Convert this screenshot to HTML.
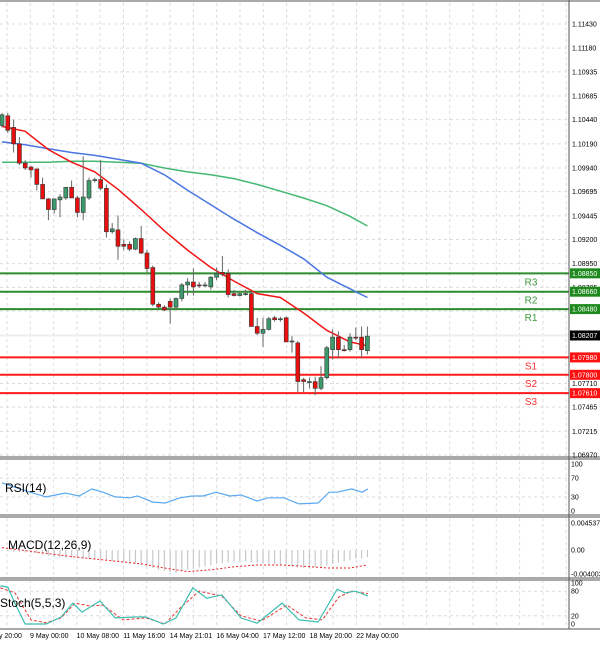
<!DOCTYPE html>
<html><head><meta charset="utf-8"><style>
html,body{margin:0;padding:0;background:#fff;}
svg{display:block;font-family:"Liberation Sans",sans-serif;}
</style></head><body>
<svg id="chart" width="600" height="645" viewBox="0 0 600 645" xmlns="http://www.w3.org/2000/svg">
<rect x="0" y="0" width="600" height="645" fill="#fff"/>
<g id="grid"></g><g id="main"></g><g id="rsi"></g><g id="macd"></g><g id="stoch"></g><g id="axes"></g>
</svg>
<script>
// ---- data ----
const opens  = [1.1038,1.1048,1.1036,1.1019,1.0999,1.0995,1.0993,1.0977,1.0962,1.0951,1.0961,1.0963,1.0974,1.0963,1.0948,1.0963,1.0981,1.0982,1.0973,1.0928,1.0930,1.0915,1.0915,1.0910,1.0921,1.0906,1.0891,1.0853,1.0850,1.0856,1.0850,1.0859,1.0873,1.0876,1.0873,1.0873,1.0871,1.0881,1.0886,1.0885,1.0864,1.0862,1.0863,1.0864,1.0830,1.0823,1.0827,1.0839,1.0838,1.0839,1.0815,1.0813,1.0775,1.0773,1.0773,1.0766,1.0777,1.0806,1.0819,1.0806,1.0806,1.0819,1.0819,1.0805];
const highs  = [1.1051,1.1051,1.1044,1.1026,1.1002,1.0996,1.0993,1.0984,1.0963,1.0962,1.0967,1.0974,1.0981,1.0965,1.1006,1.0984,1.0984,1.1002,1.0977,1.0937,1.0945,1.0920,1.0918,1.0922,1.0934,1.0909,1.0893,1.0855,1.0852,1.0859,1.0860,1.0875,1.0880,1.0890,1.0876,1.0876,1.0882,1.0891,1.0903,1.0889,1.0868,1.0865,1.0868,1.0866,1.0839,1.0839,1.0840,1.0841,1.0840,1.0840,1.0820,1.0815,1.0777,1.0777,1.0778,1.0789,1.0810,1.0827,1.0825,1.0811,1.0823,1.0829,1.0830,1.0830];
const lows   = [1.1036,1.1030,1.1010,1.0997,1.0992,1.0984,1.0971,1.0962,1.0940,1.0947,1.0943,1.0961,1.0963,1.0943,1.0940,1.0961,1.0979,1.0971,1.0922,1.0926,1.0899,1.0909,1.0908,1.0909,1.0905,1.0886,1.0851,1.0849,1.0846,1.0833,1.0848,1.0856,1.0862,1.0862,1.0870,1.0871,1.0868,1.0878,1.0882,1.0860,1.0861,1.0861,1.0862,1.0830,1.0821,1.0809,1.0826,1.0835,1.0835,1.0814,1.0803,1.0762,1.0762,1.0766,1.0759,1.0764,1.0775,1.0796,1.0797,1.0804,1.0804,1.0816,1.0797,1.0801];
const closes = [1.1049,1.1033,1.1019,1.0999,1.0994,1.0992,1.0977,1.0962,1.0951,1.0962,1.0964,1.0974,1.0963,1.0948,1.0964,1.0981,1.0982,1.0973,1.0928,1.0931,1.0913,1.0913,1.0910,1.0921,1.0906,1.0890,1.0853,1.0850,1.0847,1.0850,1.0859,1.0873,1.0876,1.0871,1.0872,1.0873,1.0881,1.0885,1.0884,1.0863,1.0862,1.0864,1.0864,1.0830,1.0823,1.0827,1.0838,1.0837,1.0838,1.0814,1.0815,1.0773,1.0773,1.0773,1.0766,1.0777,1.0808,1.0819,1.0806,1.0805,1.0819,1.0818,1.0806,1.0820];
const maIdx   = [0,4,8,12,16,20,24,28,32,36,40,44,48,52,56,60,63];
const maFast  = [1.1037,1.1032,1.1013,1.1000,1.0990,1.0972,1.0951,1.0929,1.0909,1.0891,1.0877,1.0864,1.0860,1.0844,1.0826,1.0814,1.0810];
const maMid   = [1.1021,1.1018,1.1014,1.1010,1.1007,1.1003,1.0999,1.0987,1.0971,1.0956,1.0941,1.0927,1.0914,1.0900,1.0881,1.0869,1.0860];
const maSlow  = [1.1000,1.1000,1.1000,1.1001,1.1001,1.1000,1.0999,1.0994,1.0990,1.0987,1.0983,1.0977,1.0970,1.0963,1.0955,1.0944,1.0934];
const pivotNames  = ["R3","R2","R1","S1","S2","S3"];
const pivotValues = [1.0885,1.0866,1.0848,1.0798,1.0780,1.0761];
const lastPrice = 1.08207;
const priceTicks = ["1.11430","1.11180","1.10935","1.10685","1.10440","1.10190","1.09940","1.09695","1.09445","1.09200","1.08950","1.08705","1.08460","1.07710","1.07465","1.07215","1.06970"];
const rsiIdx = [0,3.6,7.6,10.9,13.3,15.5,17.4,19.5,22,23.4,26,28.1,30.7,32.8,34.7,36.9,39.3,41.2,44,45.9,48.6,51.2,54.5,56.4,57.8,60.3,62.1,63.1];
const rsiVals = [60,45,30,38,32,47,40,30,28,32,19,17,28,32,32,40,32,34,21,28,28,15,17,40,40,47,40,47];
const macdMain = [-0.0001,-0.0002,-0.0003,-0.0003,-0.0004,-0.0005,-0.0006,-0.0008,-0.0010,-0.0011,-0.0012,-0.0013,-0.0013,-0.0014,-0.0014,-0.0015,-0.0016,-0.0016,-0.0017,-0.0019,-0.0019,-0.0020,-0.0021,-0.0023,-0.0025,-0.0027,-0.0030,-0.0033,-0.0035,-0.0037,-0.0038,-0.0036,-0.0033,-0.0031,-0.0029,-0.0027,-0.0025,-0.0023,-0.0022,-0.0021,-0.0020,-0.0019,-0.0019,-0.0020,-0.0022,-0.0023,-0.0023,-0.0024,-0.0025,-0.0026,-0.0027,-0.0029,-0.0030,-0.0030,-0.0029,-0.0028,-0.0026,-0.0023,-0.0021,-0.0019,-0.0017,-0.0015,-0.0014,-0.0012];
const macdSignal = [0.0004,-0.0001,-0.0006,-0.0011,-0.0015,-0.0019,-0.0023,-0.0030,-0.0036,-0.0033,-0.0028,-0.0025,-0.0025,-0.0027,-0.0030,-0.0030,-0.0025];
const stochMainIdx = [-0.3,1,2.2,4,7.6,10.2,12.2,13.8,16.9,19.5,22.8,24.8,27.8,30,32.9,35.3,37.9,41.2,44,48.3,51.2,54.5,57.8,59.1,61,63.1];
const stochMain = [93,90,51,0,0,17,51,29,56,15,17,17,0,15,88,63,71,15,2,51,10,5,85,76,80,68];
const stochSigIdx = [-0.3,2.2,5,7.6,10.2,12.6,15.2,17.4,20.9,24.8,28.1,30.7,34,37.9,41.2,44.7,49.1,52.4,55.2,58.1,60.3,63.1];
const stochSig = [88,76,10,3,15,51,44,46,10,15,0,39,80,68,20,7,46,15,10,66,80,74];
const timeLabels = ["8 May 20:00","9 May 00:00","10 May 08:00","11 May 16:00","14 May 21:01","16 May 04:00","17 May 12:00","18 May 20:00","22 May 00:00"];

// ---- scales ----
const NS="http://www.w3.org/2000/svg";
const PW=569;
const xBar = i => 2 + i*5.8;
const yP = p => 24 + (1.1143 - p)*9664;
const yRsi = v => 511 - v*0.47;
const yMacd = v => 550 - v*6000;
const ySto = v => 624 - v*0.41;
function mk(tag, attrs, parent){const e=document.createElementNS(NS,tag);for(const k in attrs)e.setAttribute(k,attrs[k]);document.getElementById(parent).appendChild(e);return e;}

// grid
for(let k=0;k<25;k++){const x=7+k*23.3;if(x>PW)break;
  for(const [a,b] of [[3,456],[461,514],[518,577],[580,628]]){const l=mk('line',{x1:x,x2:x,y1:a,y2:b,stroke:'#dcdcdc','stroke-dasharray':'3,3'},'grid');
  
  }
}
priceTicks.forEach(t=>{const y=yP(parseFloat(t));const l=mk('line',{x1:0,x2:PW,y1:y,y2:y,stroke:'#dcdcdc','stroke-dasharray':'3,3'},'grid');
  
  });
[70,30].forEach(v=>{const l=mk('line',{x1:0,x2:PW,y1:yRsi(v),y2:yRsi(v),stroke:'#dcdcdc','stroke-dasharray':'3,3'},'grid');
  
  });
[80,20].forEach(v=>{const l=mk('line',{x1:0,x2:PW,y1:ySto(v),y2:ySto(v),stroke:'#dcdcdc','stroke-dasharray':'3,3'},'grid');
  
  });

// current price line
{const l=mk('line',{x1:0,x2:PW,y1:yP(lastPrice),y2:yP(lastPrice),stroke:'#eeeeee','stroke-width':2},'main');

}

// pivots
pivotValues.forEach((p,i)=>{const isR=pivotNames[i][0]==='R';const c=isR?'#2e8b2e':'#ff1a1a';const y=yP(p);
  const l=mk('line',{x1:0,x2:PW,y1:y,y2:y,stroke:c,'stroke-width':2},'main');
  
  
  const t=mk('text',{x:531,y:y+12,'font-size':10,fill:isR?'#3a9a3a':'#ff3030','text-anchor':'middle'},'main');t.textContent=pivotNames[i];
  
  
});

// MAs
function line(idx,vals,yf,color,parent,name,dash,w){let d='';idx.forEach((ix,j)=>{d+=(j?'L':'M')+xBar(ix).toFixed(1)+','+yf(vals[j]).toFixed(1);});
  const p=mk('path',{d:d,fill:'none',stroke:color,'stroke-width':w||1.5},parent);if(dash)p.setAttribute('stroke-dasharray',dash);
  
  }
line(maIdx,maSlow,yP,'#44b872','main','ma-slow');
line(maIdx,maMid,yP,'#4a76e2','main','ma-medium');
line(maIdx,maFast,yP,'#f01515','main','ma-fast');

// candles
opens.forEach((o,i)=>{const x=xBar(i),c=closes[i];const up=c>=o;
  const w=mk('line',{x1:x,x2:x,y1:yP(highs[i]),y2:yP(lows[i]),stroke:'#666','stroke-width':1},'main');
  
  
  const top=yP(Math.max(o,c)),bot=yP(Math.min(o,c));
  const b=mk('rect',{x:x-2,y:top,width:4,height:Math.max(1,bot-top),fill:up?'#3d9a6c':'#e8100f',stroke:'#333','stroke-width':0.6},'main');
  
  
});

// RSI
line(rsiIdx,rsiVals,yRsi,'#5aa8f0','rsi','rsi-line',null,1.2);
// MACD
macdMain.forEach((v,i)=>{const l=mk('line',{x1:xBar(i),x2:xBar(i),y1:yMacd(0),y2:yMacd(v),stroke:'#c8c8c8','stroke-width':1.2},'macd');
  
  });
line(maIdx,macdSignal,yMacd,'#ee2222','macd','macd-signal','2,2',1);
// Stoch
line(stochSigIdx,stochSig,ySto,'#ee3333','stoch','stoch-signal','3,2',1);
line(stochMainIdx,stochMain,ySto,'#3cbfb0','stoch','stoch-main',null,1.2);

// panel titles
[["RSI(14)",492,'rsi-title'],["MACD(12,26,9)",549,'macd-title'],["Stoch(5,5,3)",607,'stoch-title']].forEach(([t,y,n],i)=>{
  const e=mk('text',{x:i===1?8:(i===0?5:0),y:y,'font-size':12,fill:'#000'},'axes');e.textContent=t;
  
  });

// borders
[[0,1,600,1],[0,457,600,457],[0,459,600,459],[0,515,600,515],[0,517,600,517],[0,578,600,578],[0,580,600,580],[0,629,600,629]].forEach(a=>{
  const l=mk('line',{x1:a[0],y1:a[1],x2:a[2],y2:a[3],stroke:'#777','stroke-width':1.2},'axes');
  
  });
{const l=mk('line',{x1:PW,x2:PW,y1:0,y2:629,stroke:'#555','stroke-width':1},'axes');

}

// price labels
priceTicks.forEach(t=>{const e=mk('text',{x:572,y:yP(parseFloat(t))+2.5,'font-size':7,fill:'#000'},'axes');e.textContent=t;
  
  });
function box(p,col,name){const y=yP(p);const r=mk('rect',{x:570,y:y-5,width:30,height:10,fill:col},'axes');
  
  
  const e=mk('text',{x:572,y:y+2.5,'font-size':7,fill:'#fff'},'axes');e.textContent=p.toFixed(5);
  
  }
pivotValues.forEach((p,i)=>box(p,pivotNames[i][0]==='R'?'#1e8a1e':'#ff1010','pivot-'+pivotNames[i].toLowerCase()));
box(lastPrice,'#000','current-price');

// sub-panel scale labels
[["100",yRsi(100)],["70",yRsi(70)],["30",yRsi(30)],["0",yRsi(0)],["0.004537",yMacd(0.004537)],["0.00",yMacd(0)],["-0.004003",yMacd(-0.004003)],["100",ySto(100)],["80",ySto(80)],["20",ySto(20)],["0",ySto(0)]].forEach(([t,y])=>{
  const e=mk('text',{x:571,y:y+2.5,'font-size':7,fill:'#000'},'axes');e.textContent=t;
  
  });

// time labels
timeLabels.forEach((t,i)=>{const x=-16.6+i*46.6;const e=mk('text',{x:x,y:638,'font-size':7,fill:'#000'},'axes');e.textContent=t;
  
  });
</script>
</body></html>
